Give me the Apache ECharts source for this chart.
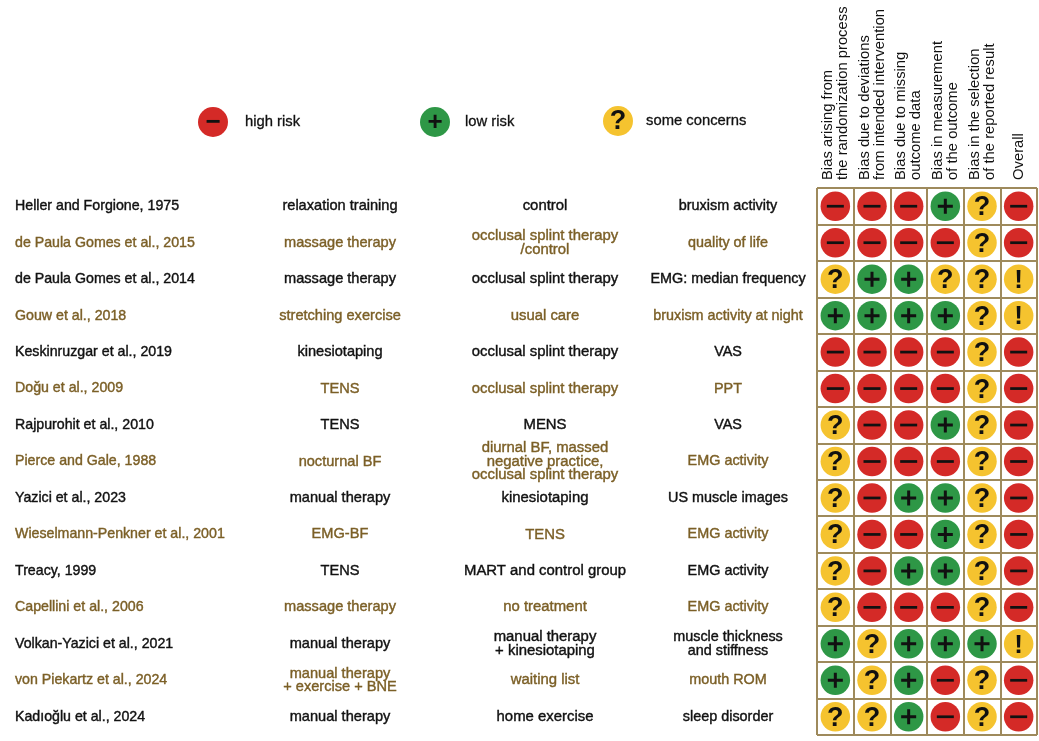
<!DOCTYPE html>
<html><head><meta charset="utf-8">
<style>html,body{margin:0;padding:0;background:#fff}#c{width:1039px;height:741px}</style>
<script src="https://cdn.jsdelivr.net/npm/echarts@6/dist/echarts.min.js"></script>
</head><body><div id="c"></div>
<script>
const studies = ["Heller and Forgione, 1975","de Paula Gomes et al., 2015","de Paula Gomes et al., 2014","Gouw et al., 2018","Keskinruzgar et al., 2019","Doğu et al., 2009","Rajpurohit et al., 2010","Pierce and Gale, 1988","Yazici et al., 2023","Wieselmann-Penkner et al., 2001","Treacy, 1999","Capellini et al., 2006","Volkan-Yazici et al., 2021","von Piekartz et al., 2024","Kadıoğlu et al., 2024"];
const interventions = ["relaxation training","massage therapy","massage therapy","stretching exercise","kinesiotaping","TENS","TENS","nocturnal BF","manual therapy","EMG-BF","TENS","massage therapy","manual therapy","manual therapy\n+ exercise + BNE","manual therapy"];
const comparators = ["control","occlusal splint therapy\n/control","occlusal splint therapy","usual care","occlusal splint therapy","occlusal splint therapy","MENS","diurnal BF, massed\nnegative practice,\nocclusal splint therapy","kinesiotaping","TENS","MART and control group","no treatment","manual therapy\n+ kinesiotaping","waiting list","home exercise"];
const outcomes = ["bruxism activity","quality of life","EMG: median frequency","bruxism activity at night","VAS","PPT","VAS","EMG activity","US muscle images","EMG activity","EMG activity","EMG activity","muscle thickness\nand stiffness","mouth ROM","sleep disorder"];
const domains = ["Bias arising from\nthe randomization process","Bias due to deviations\nfrom intended intervention","Bias due to missing\noutcome data","Bias in measurement\nof the outcome","Bias in the selection\nof the reported result","Overall"];
const ratings = ["-,-,-,+,?,-","-,-,-,-,?,-","?,+,+,?,?,!","+,+,+,+,?,!","-,-,-,-,?,-","-,-,-,-,?,-","?,-,-,+,?,-","?,-,-,-,?,-","?,-,+,+,?,-","?,-,-,+,?,-","?,-,+,+,?,-","?,-,-,-,?,-","+,?,+,+,+,!","+,?,+,-,?,-","?,?,+,-,?,-"];
const PLUS="path://M40 0H60V40H100V60H60V100H40V60H0V40H40z", MINUS="path://M0 42H100V58H0z";
const levels = [
  {key:"-", name:"high risk", color:"#D42A27", glyph:"−", path:MINUS, size:17},
  {key:"+", name:"low risk", color:"#2E9746", glyph:"+", path:PLUS, size:15},
  {key:"?", name:"some concerns", color:"#F5C32F", glyph:"?"},
  {key:"!", name:"overall concerns", color:"#F5C32F", glyph:"!"}
];
const BLACK="#111111", BROWN="#7B5F26", FONT='"Liberation Sans", Arial, sans-serif';
const ROWTOP=188, ROWH=547;

const grids=[{left:817,top:ROWTOP,width:220,height:ROWH}];
const xAxes=[{type:"category",gridIndex:0,position:"top",data:domains,
  axisTick:{show:false},axisLine:{show:false},
  axisLabel:{interval:0,rotate:-90,margin:8,fontSize:14.8,fontFamily:FONT,color:"#111",lineHeight:15,padding:[0,0,0,0]},
  splitLine:{show:true,showMinLine:true,showMaxLine:true,lineStyle:{color:"#9E8A5C",width:2}}}];
const yAxes=[{type:"category",gridIndex:0,data:studies,inverse:true,
  axisTick:{show:false},axisLine:{show:false},axisLabel:{show:false},
  splitLine:{show:true,showMinLine:true,showMaxLine:true,lineStyle:{color:"#9E8A5C",width:2}}}];

const series=[];
levels.forEach(l=>{
  const data=[];
  ratings.forEach((r,i)=>r.split(",").forEach((v,j)=>{ if(v===l.key) data.push([domains[j],studies[i]]); }));
  series.push({name:l.name,type:"scatter",xAxisIndex:0,yAxisIndex:0,data,symbol:"circle",symbolSize:29.5,z:2,
    itemStyle:{color:l.color,opacity:1},silent:true,
    label:{show:!l.path,position:"inside",formatter:l.glyph,color:BLACK,fontFamily:FONT,fontWeight:"bold",
      opacity:1,offset:[0,1.5],fontSize:l.key==="?"?27:26}});
  if(l.path) series.push({type:"scatter",xAxisIndex:0,yAxisIndex:0,data,symbol:l.path,symbolKeepAspect:true,symbolSize:l.size,z:3,
    itemStyle:{color:BLACK,opacity:1},silent:true});
});

function textColumn(values,left,width,align,fontSize){
  const i=grids.length;
  grids.push({left,top:ROWTOP,width,height:ROWH});
  xAxes.push({type:"category",gridIndex:i,data:["c"],show:false});
  yAxes.push({type:"category",gridIndex:i,data:studies,inverse:true,show:false});
  series.push({type:"scatter",xAxisIndex:i,yAxisIndex:i,symbolSize:1,silent:true,
    itemStyle:{color:"transparent",opacity:1},
    data:values.map((v,r)=>{const c=r%2?BROWN:BLACK;return {value:["c",studies[r]],
      label:{formatter:v,color:c,textBorderColor:c}};}),
    label:{show:true,position:"inside",fontFamily:FONT,fontSize,lineHeight:13.5,align,opacity:1,textBorderWidth:0.4}});
}
textColumn(studies,15,0,"left",14.2);
textColumn(interventions,240,200,"center",14.6);
textColumn(comparators,445,200,"center",14.9);
textColumn(outcomes,628,200,"center",14.4);

const legendSpots=[{l:198,gap:17,y:122,t:3},{l:420,gap:15,y:122,t:3},{l:603,gap:13,y:121,t:2}];
const legends=legendSpots.map((s,i)=>({
  show:true,left:s.l,top:s.y-15,padding:0,orient:"horizontal",data:[levels[i].name],icon:"circle",
  itemWidth:30,itemHeight:30,selectedMode:false,
  textStyle:{fontFamily:FONT,fontSize:14.8,color:"#111",textBorderColor:"#111",textBorderWidth:0.3,padding:[s.t,0,0,s.gap-5]}
}));
const legendGlyphs=legendSpots.map((s,i)=>({type:"text",x:s.l+15,y:s.y+1,z:100,silent:true,
  style:{text:levels[i].glyph,fontFamily:FONT,fontWeight:"bold",fontSize:i===2?27:26,fill:BLACK,align:"center",verticalAlign:"middle"}}));

echarts.init(document.getElementById("c"),null,{renderer:"canvas"}).setOption({
  animation:false,backgroundColor:"#fff",
  grid:grids,xAxis:xAxes,yAxis:yAxes,series,legend:legends,graphic:legendGlyphs
});
</script></body></html>
